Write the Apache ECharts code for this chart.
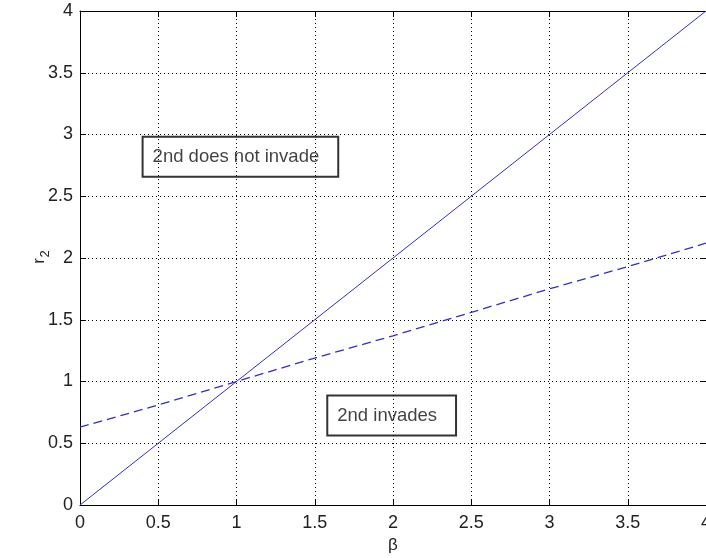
<!DOCTYPE html>
<html>
<head>
<meta charset="utf-8">
<script src="https://cdn.jsdelivr.net/npm/echarts@6/dist/echarts.min.js"></script>
<style>
  html, body { margin: 0; padding: 0; background: #fff; }
  #chart { width: 706px; height: 558px; }
</style>
</head>
<body>
<div id="chart"></div>
<script>
// Invasion boundaries in the (beta, r2) plane
const beta = [0, 0.5, 1, 1.5, 2, 2.5, 3, 3.5, 4];
const boundarySolid = [0, 0.5, 1, 1.5, 2, 2.5, 3, 3.5, 4];
const boundaryDashed = [0.63, 0.81, 1.0, 1.19, 1.37, 1.56, 1.75, 1.93, 2.12];

// Region annotations (left edge x, centre y, in data units)
const annotationText = ['2nd does not invade', '2nd invades'];
const annotationAt = [[0.40, 2.82], [1.58, 0.725]];

const axisMin = 0, axisMax = 4, axisStep = 0.5;
const FONT = 'Liberation Sans, Arial, Helvetica, sans-serif';
const LINE_BLUE = '#3030c4';

const chart = echarts.init(document.getElementById('chart'), null, { renderer: 'canvas' });

const pairs = (xs, ys) => xs.map((x, i) => [x, ys[i]]);

const boxAxis = (pos, showLabels, showGrid, margin) => ({
  type: 'value',
  position: pos,
  min: axisMin, max: axisMax, interval: axisStep,
  axisLine: { show: true, onZero: false, lineStyle: { color: '#000', width: 1 } },
  axisTick: { show: true, inside: true, length: 6, lineStyle: { color: '#000', width: 1 } },
  axisLabel: {
    show: showLabels, color: '#222', fontFamily: FONT, fontSize: 18, margin: margin || 8,
    showMinLabel: true, showMaxLabel: true, hideOverlap: false
  },
  splitLine: {
    show: showGrid,
    lineStyle: { color: '#000', width: 1, type: [1, 3] }
  }
});

const xBottom = boxAxis('bottom', true, true, 9);
xBottom.name = 'β';
xBottom.nameLocation = 'middle';
xBottom.nameGap = 31;
xBottom.nameTextStyle = { color: '#222', fontFamily: FONT, fontSize: 17 };

const option = {
  backgroundColor: '#fff',
  animation: false,
  grid: {
    left: 80, top: 11, right: 0, bottom: 53,
    containLabel: false, outerBoundsMode: 'none'
  },
  xAxis: [xBottom, boxAxis('top', false, false)],
  yAxis: [boxAxis('left', true, true, 7), boxAxis('right', false, false)],
  series: [
    {
      type: 'line', xAxisIndex: 0, yAxisIndex: 0,
      data: pairs(beta, boundarySolid),
      symbol: 'none', smooth: false,
      lineStyle: { color: LINE_BLUE, width: 1 }
    },
    {
      type: 'line', xAxisIndex: 0, yAxisIndex: 0,
      data: pairs(beta, boundaryDashed),
      symbol: 'none', smooth: false,
      lineStyle: { color: LINE_BLUE, width: 1.3, type: [9, 5] }
    },
    {
      type: 'scatter', xAxisIndex: 0, yAxisIndex: 0,
      symbolSize: 0, silent: true,
      data: annotationAt.map((p, i) => ({ value: p, name: annotationText[i] })),
      label: {
        show: true, position: 'right', distance: 0,
        formatter: (p) => p.name,
        color: '#111', fontFamily: FONT, fontSize: 18.5, lineHeight: 20,
        borderColor: '#000', borderWidth: 1,
        padding: [10, 19, 10, 10],
        backgroundColor: 'transparent'
      }
    }
  ],
  graphic: [
    {
      type: 'group', x: 39, y: 258, rotation: Math.PI / 2,
      children: [
        { type: 'text', x: -3, y: 0,
          style: { text: 'r', fontFamily: FONT, fontSize: 17, fill: '#222',
                   textAlign: 'center', textVerticalAlign: 'middle' } },
        { type: 'text', x: 4, y: 6,
          style: { text: '2', fontFamily: FONT, fontSize: 13, fill: '#222',
                   textAlign: 'center', textVerticalAlign: 'middle' } }
      ]
    }
  ]
};

chart.setOption(option);
</script>
</body>
</html>
